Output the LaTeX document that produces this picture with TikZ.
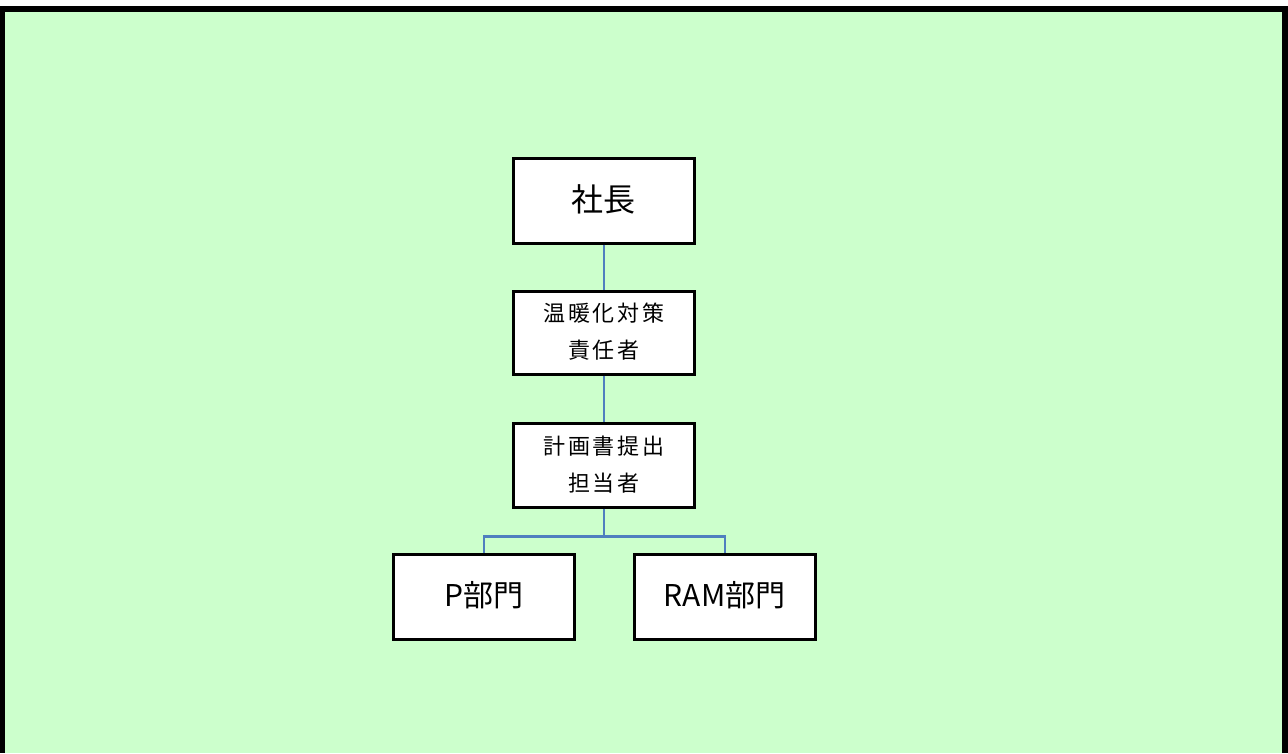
\documentclass[tikz,border=0pt]{standalone}
\usepackage{fontspec}
\setmainfont{Noto Sans CJK JP}
\definecolor{bggreen}{HTML}{CCFFCC}
\definecolor{linkblue}{HTML}{4F7FBF}
\begin{document}
\begin{tikzpicture}[x=1pt,y=-1pt,
  orgbox/.style={draw=black,line width=2.5pt,fill=white,minimum width=181pt,minimum height=85pt,inner sep=0pt,align=center,anchor=north west},
  twoline/.style={font=\fontsize{22}{37}\selectfont\addfontfeature{LetterSpace=12}},
  link/.style={draw=linkblue,line width=2.2pt}]
\useasboundingbox (0,0) rectangle (1288,753);
\fill[white] (0,0) rectangle (1288,753);
\fill[black] (0,6) rectangle (1288,753);
\fill[bggreen] (5,12) rectangle (1282,753);
\node[orgbox,font=\fontsize{32}{38}\selectfont] (ceo) at (512,157) {\raisebox{5pt}{社長}};
\node[orgbox,minimum height=83pt,twoline] (mgr) at (512,290) {\raisebox{2pt}{\begin{tabular}{@{}c@{}}温暖化対策\\責任者\end{tabular}}};
\node[orgbox,minimum height=84pt,twoline] (rep) at (512,422) {\raisebox{3pt}{\begin{tabular}{@{}c@{}}計画書提出\\担当者\end{tabular}}};
\node[orgbox,font=\fontsize{30}{36}\selectfont] (p) at (392,553) {\raisebox{5pt}{P部門}};
\node[orgbox,font=\fontsize{30}{36}\selectfont] (ram) at (633,553) {\raisebox{5pt}{RAM部門}};
\path (rep.south) ++(0,28) coordinate (split);
\draw[link] (ceo.south) -- (mgr.north);
\draw[link] (mgr.south) -- (rep.north);
\draw[link] (rep.south) -- (split);
\draw[link] (p.north) |- (split) -| (ram.north);
\end{tikzpicture}
\end{document}
